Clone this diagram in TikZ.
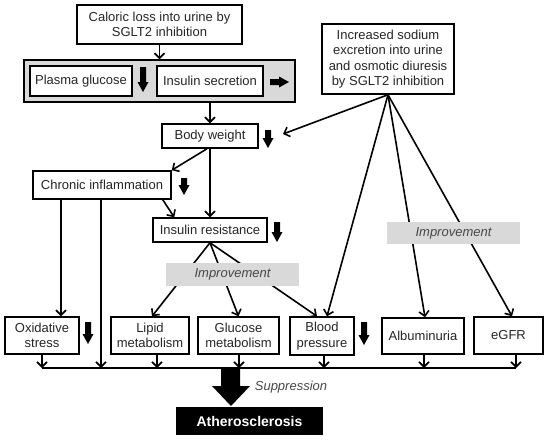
\documentclass[tikz,border=0pt]{standalone}
\usepackage{fontspec}
\setmainfont{Liberation Sans}
\usetikzlibrary{arrows.meta}
\definecolor{panelgray}{HTML}{D9D9D9}
\definecolor{txt}{HTML}{262626}
\tikzset{
 box/.style={draw=black, line width=1.5pt, fill=white, inner sep=0pt, align=center, text=txt, font=\fontsize{13}{15.5}\selectfont},
 conn/.style={line width=1.6pt, -{Straight Barb[length=5pt,width=10pt,line width=1.6pt]}},
 imp/.style={fill=panelgray, inner sep=0pt, font=\fontsize{13}{15.5}\selectfont\itshape, text=txt!85},
 plain/.style={line width=1.6pt},
}
\newcommand\blkdown[3]{\fill (#1-3,#2) -- (#1+3,#2) -- (#1+3,#3-10) -- (#1+5.5,#3-10) -- (#1,#3) -- (#1-5.5,#3-10) -- (#1-3,#3-10) -- cycle;}
\begin{document}
\begin{tikzpicture}[x=1pt,y=-1pt]
\useasboundingbox (0,0) rectangle (550,442);
% top
\node[box, minimum width=165, minimum height=39] (cal) at (159.5,24.5) {Caloric loss into urine by\\SGLT2 inhibition};
\node[draw, line width=1.5pt, fill=panelgray, minimum width=271, minimum height=42, inner sep=0pt] (panel) at (159.5,81) {};
\node[box, minimum width=102, minimum height=30] (pg) at (81,81) {Plasma glucose};
\node[box, minimum width=106, minimum height=30] (is) at (210,81) {Insulin secretion};
\node[box, minimum width=132, minimum height=70] (sod) at (388,59) {Increased sodium\\excretion into urine\\and osmotic diuresis\\by SGLT2 inhibition};
\node[box, minimum width=96, minimum height=24] (bw) at (210,136) {Body weight};
\node[box, minimum width=138, minimum height=28] (ci) at (102,185) {Chronic inflammation};
\node[box, minimum width=114, minimum height=24] (ir) at (210,230) {Insulin resistance};
% bottom row
\node[box, minimum width=74, minimum height=37] (ox) at (42,335.5) {Oxidative\\stress};
\node[box, minimum width=78, minimum height=37] (lip) at (150,335.5) {Lipid\\metabolism};
\node[box, minimum width=81, minimum height=37] (glu) at (238.5,335.5) {Glucose\\metabolism};
\node[box, minimum width=64, minimum height=38] (bp) at (322,336) {Blood\\pressure};
\node[box, minimum width=82, minimum height=36] (alb) at (423,336) {Albuminuria};
\node[box, minimum width=69, minimum height=37] (egfr) at (508.5,335.5) {eGFR};
\node[fill=black, text=white, inner sep=0pt, minimum width=147, minimum height=28, font=\fontsize{14}{16}\selectfont\bfseries] (ath) at (249.5,421) {Atherosclerosis};
% bus coordinates
\coordinate (b1) at (42,368);
\coordinate (b2) at (101,368);
\coordinate (b3) at (157,368);
\coordinate (b4) at (239,368);
\coordinate (b5) at (324,368);
\coordinate (b6) at (424,368);
\coordinate (b7) at (516,368);
\coordinate (bwin) at (283,134);
% connectors
\draw[conn] (cal) -- (panel);
\draw[conn] (panel.south -| bw.north) -- (bw.north);
\draw[conn] (sod.south) -- (bwin);
\draw[conn] ([xshift=-3pt]bw.south) -- (ci.north east);
\draw[conn] (bw.south) -- (ir.north);
\draw[conn] ([xshift=-9pt]ci.south east) -- ([xshift=22pt]ir.north west);
\draw[conn] ([xshift=-41pt]ci.south) -- ([xshift=19pt]ox.north);
\draw[conn] ([xshift=-1pt]ci.south) -- (b2);
\draw[conn] (ir.south) -- ([xshift=2pt]lip.north);
\draw[conn] (ir.south) -- (glu.north);
\draw[conn] (ir.south) -- ([xshift=-5pt]bp.north);
\draw[conn] (sod.south) -- ([xshift=5pt]bp.north);
\draw[conn] (sod.south) -- ([xshift=2pt]alb.north);
\draw[conn] (sod.south) -- ([xshift=3.5pt]egfr.north);
\draw[plain] (b1) -- (b7);
\draw[conn] (ox.south) -- (b1);
\draw[conn] (lip.south -| b3) -- (b3);
\draw[conn] (glu.south -| b4) -- (b4);
\draw[conn] (bp.south -| b5) -- (b5);
\draw[conn] (alb.south -| b6) -- (b6);
\draw[conn] (egfr.south -| b7) -- (b7);
% improvement labels
\node[imp, minimum width=133, minimum height=23] (imp1) at (232.5,274.5) {Improvement};
\node[imp, minimum width=133, minimum height=22] (imp2) at (453.5,233) {Improvement};
% block arrows
\blkdown{143}{67}{92}
\blkdown{268}{130}{148}
\blkdown{184}{178}{195}
\blkdown{277}{222}{242}
\blkdown{88}{322}{344}
\blkdown{364}{322}{345}
\fill (270,79) -- (279,79) -- (279,76.5) -- (289,82) -- (279,87.5) -- (279,85) -- (270,85) -- cycle;
% big arrow
\fill (221,368) -- (240,368) -- (240,386) -- (250,386) -- (231,406) -- (212,386) -- (221,386) -- cycle;
\node[font=\fontsize{13}{15.5}\selectfont\itshape, text=txt!85, inner sep=0pt] (sup) at (291,387) {Suppression};
\end{tikzpicture}
\end{document}
